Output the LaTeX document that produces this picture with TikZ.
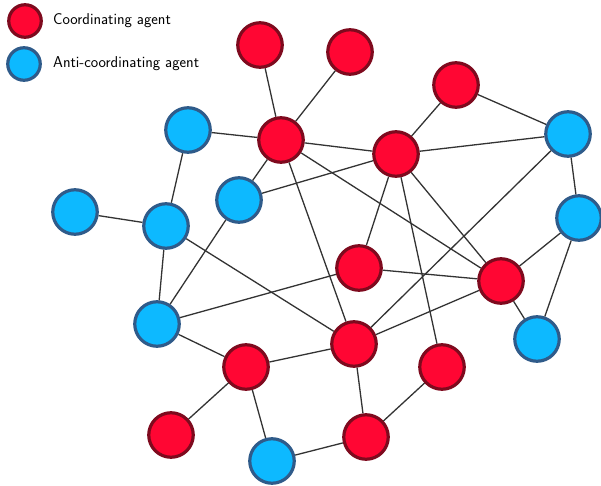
\documentclass[tikz,border=0pt]{standalone}
\definecolor{coordfill}{HTML}{FF0633}
\definecolor{coordline}{HTML}{7E0A1E}
\definecolor{antifill}{HTML}{0DB9FF}
\definecolor{antiline}{HTML}{2F5B8A}
\definecolor{edgegray}{HTML}{333333}
\tikzset{
  agent/.style={circle, draw, line width=3.2pt, minimum size=44.5pt, inner sep=0pt},
  coord/.style={agent, fill=coordfill, draw=coordline},
  anti/.style={agent, fill=antifill, draw=antiline},
  legcoord/.style={coord, minimum size=32.5pt},
  leganti/.style={anti, minimum size=32.5pt},
  link/.style={draw=edgegray, line width=1.3pt},
  legtext/.style={anchor=west, inner sep=0pt, font=\sffamily\fontsize{15.7}{18}\selectfont}
}
\begin{document}
\begin{tikzpicture}[x=1pt, y=-1pt]
\useasboundingbox (0,0) rectangle (601,486);
% agents
\node[coord] (r1)  at (260,45)  {};
\node[coord] (r2)  at (350,52)  {};
\node[coord] (r3)  at (456,85)  {};
\node[coord] (r4)  at (281,140) {};
\node[coord] (r5)  at (396,154) {};
\node[coord] (r6)  at (359,268) {};
\node[coord] (r7)  at (501,281) {};
\node[coord] (r8)  at (354,344) {};
\node[coord] (r9)  at (246,367) {};
\node[coord] (r10) at (442,367) {};
\node[coord] (r11) at (171,435) {};
\node[coord] (r12) at (366,437) {};
\node[anti] (b1) at (188,130) {};
\node[anti] (b2) at (239,200) {};
\node[anti] (b3) at (75,212)  {};
\node[anti] (b4) at (166,226) {};
\node[anti] (b5) at (568,134) {};
\node[anti] (b6) at (579,218) {};
\node[anti] (b7) at (157,324) {};
\node[anti] (b8) at (537,339) {};
\node[anti] (b9) at (272,461) {};
% links between agents
\foreach \a/\b in {r1/r4, r2/r4, r3/r5, r3/b5, r5/b5, r4/r5, b1/r4, b1/b4, b3/b4,
  r4/b2, b2/r5, b2/b7, b4/b7, b4/r8, r4/r8, r4/r7, r5/r6, r5/r10, r5/r7, r6/r7,
  r7/b6, r7/b8, b5/b6, b6/b8, b5/r8, r7/r8, r6/b7, b7/r9, r9/r8, r9/r11, r9/b9,
  b9/r12, r8/r12, r12/r10}
  \path[link] (\a) -- (\b);
% legend
\node[legcoord] (lc) at (25,21) {};
\node[leganti]  (la) at (24,64) {};
\node[legtext] (lct) at (53,21) {Coordinating agent};
\node[legtext] (lat) at (53,64) {Anti-coordinating agent};
\end{tikzpicture}
\end{document}
